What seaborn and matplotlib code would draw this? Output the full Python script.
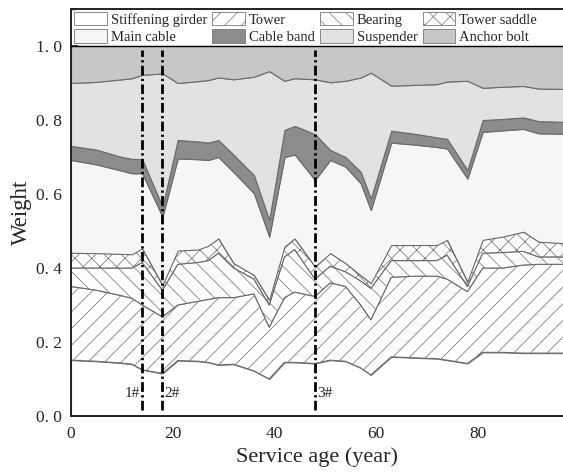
import numpy as np
import pandas as pd
import matplotlib
matplotlib.use("Agg")
import matplotlib.pyplot as plt
import seaborn as sns
from matplotlib.patches import Patch
from matplotlib.ticker import MultipleLocator, FuncFormatter

# ---------------- data ----------------
age = [0, 5, 10, 12, 14, 18, 21, 25, 27, 29, 32, 36, 39, 42, 44, 48,
       51, 54, 57, 59, 63, 68, 72, 74, 78, 81, 85, 89, 92, 97]

# cumulative weight at the top of each component (stack order, bottom -> top)
cum_girder = [.151, .148, .143, .140, .125, .115, .150, .148, .145, .138, .140, .122, .100, .145, .145,
              .142, .151, .148, .130, .111, .160, .157, .155, .151, .142, .172, .172, .170, .170, .170]
cum_tower = [.350, .340, .325, .318, .300, .268, .300, .310, .315, .320, .320, .330, .240, .320, .335,
             .323, .360, .350, .300, .260, .375, .378, .378, .370, .336, .400, .400, .408, .410, .410]
cum_bearing = [.400, .400, .400, .400, .415, .340, .410, .415, .420, .440, .400, .370, .300, .430, .450,
               .370, .405, .390, .365, .345, .420, .420, .420, .435, .350, .440, .442, .445, .430, .430]
cum_saddle = [.441, .440, .438, .437, .453, .354, .447, .450, .460, .480, .413, .381, .314, .458, .480,
              .404, .440, .413, .380, .359, .462, .462, .462, .476, .363, .476, .485, .498, .471, .467]
cum_main_cable = [.692, .680, .663, .656, .656, .539, .696, .694, .692, .700, .659, .602, .485, .700, .707,
                  .638, .692, .674, .629, .557, .739, .733, .727, .723, .642, .768, .772, .776, .764, .763]
cum_cable_band = [.730, .720, .700, .695, .694, .566, .746, .742, .739, .746, .706, .651, .530, .773, .784,
                  .762, .719, .700, .660, .588, .771, .762, .753, .749, .665, .800, .803, .807, .797, .795]
cum_suspender = [.900, .903, .910, .913, .922, .926, .900, .905, .908, .915, .910, .917, .932, .906, .913,
                 .910, .902, .906, .915, .928, .893, .895, .897, .904, .906, .887, .890, .892, .885, .884]
cum_anchor = [1.0] * len(age)

components = ["Stiffening girder", "Tower", "Bearing", "Tower saddle",
              "Main cable", "Cable band", "Suspender", "Anchor bolt"]
marker_ages = [14, 18, 48]
marker_labels = ["1#", "2#", "3#"]

# ---------------- derive component weights ----------------
cum = np.array([cum_girder, cum_tower, cum_bearing, cum_saddle, cum_main_cable,
                cum_cable_band, cum_suspender, cum_anchor])
weights = np.diff(np.vstack([np.zeros(len(age)), cum]), axis=0)
df = pd.DataFrame(weights.T, columns=components)
df.insert(0, "age", age)

# ---------------- style ----------------
sns.set_theme(style="ticks")
plt.rcParams["font.family"] = ["Liberation Serif", "DejaVu Serif"]
plt.rcParams["hatch.linewidth"] = 0.5

faces = ["white", "white", "white", "white", "#f6f6f6", "#8c8c8c", "#e2e2e2", "#c7c7c7"]
hatches = [None, "//", "\\\\", "xx", None, None, None, None]
edge = "#6a6a6a"

fig = plt.figure(figsize=(5.63, 4.76), dpi=100)
ax = fig.add_axes([71 / 563, 60 / 476, (564 - 71) / 563, (416 - 9) / 476])

base = np.zeros(len(df))
for name, fc, h in zip(components, faces, hatches):
    top = base + df[name].to_numpy()
    ax.fill_between(df["age"], base, top, facecolor=fc, edgecolor=edge,
                    hatch=h, linewidth=0.8, zorder=2)
    base = top

ax.axhline(1.0, color="black", linewidth=1.0, zorder=3)

for xa in marker_ages:
    ax.vlines(xa, 0.015, 0.99, colors="black", linewidth=2.0,
              linestyles=(0, (3.5, 1.2, 0.8, 1.2)), zorder=4)
ax.text(marker_ages[0] - 0.4, 0.062, marker_labels[0], ha="right", va="center", fontsize=11, zorder=5)
ax.text(marker_ages[1] + 0.4, 0.062, marker_labels[1], ha="left", va="center", fontsize=11, zorder=5)
ax.text(marker_ages[2] + 0.4, 0.062, marker_labels[2], ha="left", va="center", fontsize=11, zorder=5)

ax.set_xlim(0, 97)
ax.set_ylim(0, 1.1)
ax.set_yticks([0, 0.2, 0.4, 0.6, 0.8, 1.0])
ax.yaxis.set_minor_locator(MultipleLocator(0.1))
ax.xaxis.set_major_locator(MultipleLocator(20))
ax.xaxis.set_minor_locator(MultipleLocator(10))
ax.yaxis.set_major_formatter(FuncFormatter(lambda v, p: f"{v:.1f}".replace(".", ". ")))
ax.tick_params(axis="both", which="major", direction="in", length=5, width=1.2,
               labelsize=12.5, top=False, right=False)
ax.tick_params(axis="x", which="major", pad=7)
ax.tick_params(axis="y", which="major", pad=6.5)
ax.tick_params(axis="both", which="minor", direction="in", length=3, width=1.0,
               top=False, right=False)
for s in ax.spines.values():
    s.set_linewidth(1.4)
    s.set_color("#222222")

ax.set_xlabel("Service age (year)", fontsize=16, labelpad=4)
ax.set_ylabel("Weight", fontsize=16.5, labelpad=3)

handles = [Patch(facecolor=fc, edgecolor="#777777", hatch=h, linewidth=0.6)
           for fc, h in zip(faces, hatches)]
order = [0, 4, 1, 5, 2, 6, 3, 7]
leg = ax.legend([handles[i] for i in order], [components[i] for i in order],
                ncol=4, loc="upper left", bbox_to_anchor=(0, 1),
                borderaxespad=0.1, frameon=False, fontsize=10.5,
                handlelength=2.25, handleheight=1.05, labelspacing=0.17,
                handletextpad=0.27, columnspacing=0.35, borderpad=0.1)
leg.set_zorder(6)

fig.savefig("out.png", dpi=100)
